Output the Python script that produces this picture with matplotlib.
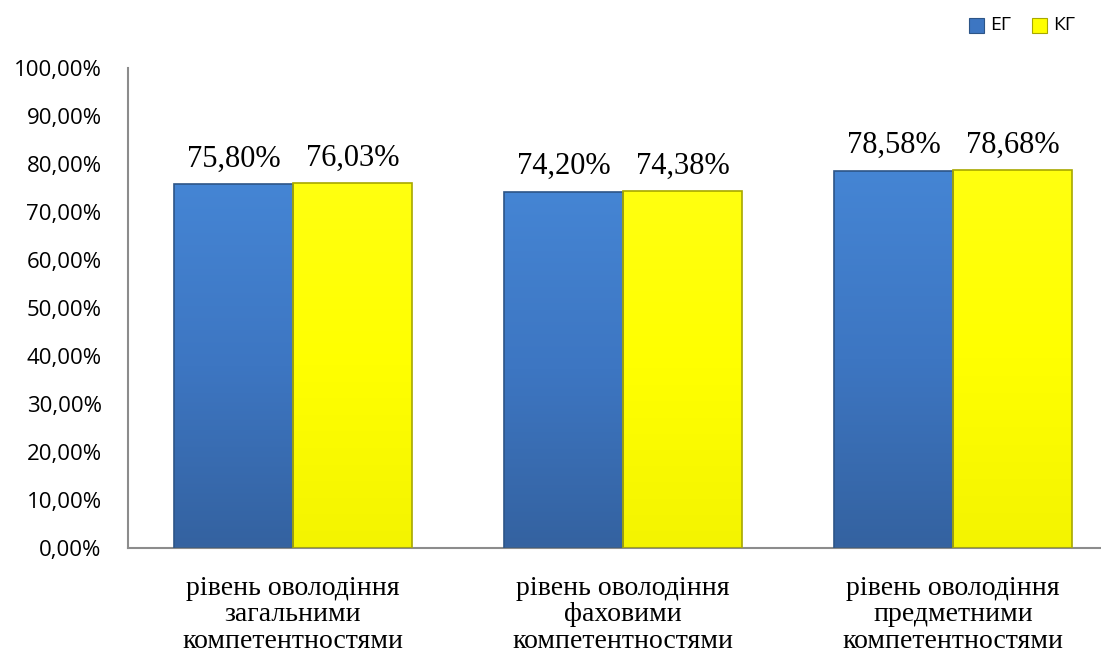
import matplotlib
matplotlib.use("Agg")
import matplotlib.pyplot as plt
import numpy as np
from matplotlib.colors import LinearSegmentedColormap
from matplotlib.patches import Rectangle

categories = ["рівень оволодіння\nзагальними\nкомпетентностями",
              "рівень оволодіння\nфаховими\nкомпетентностями",
              "рівень оволодіння\nпредметними\nкомпетентностями"]
series_names = ["ЕГ", "КГ"]
eg_values = [75.80, 74.20, 78.58]
kg_values = [76.03, 74.38, 78.68]
yticks = [0, 10, 20, 30, 40, 50, 60, 70, 80, 90, 100]

W, H = 1101, 656
fig = plt.figure(figsize=(W / 100, H / 100), dpi=100)
ax = fig.add_axes([128 / W, (H - 548) / H, (W - 128) / W, (548 - 68) / H])

x = np.arange(len(categories))
bw = 0.36
blue_cmap = LinearSegmentedColormap.from_list("b", ["#3462A0", "#3D76C2", "#4585D4"])
yel_cmap = LinearSegmentedColormap.from_list("y", ["#F4F400", "#FFFF00", "#FFFF10"])

def draw(vals, offset, cmap, edge):
    bars = ax.bar(x + offset, vals, bw, color="none", edgecolor=edge, linewidth=1.2, zorder=3)
    grad = np.linspace(0, 1, 256).reshape(-1, 1)
    for b in bars:
        x0, y0 = b.get_x(), b.get_y()
        w, h = b.get_width(), b.get_height()
        im = ax.imshow(grad, cmap=cmap, aspect="auto", origin="lower",
                       extent=[x0, x0 + w, y0, y0 + h], zorder=2)
        im.set_clip_path(b)
    return bars

b1 = draw(eg_values, -bw / 2, blue_cmap, "#2D5587")
b2 = draw(kg_values, bw / 2, yel_cmap, "#A8A800")

for bars, vals in ((b1, eg_values), (b2, kg_values)):
    for b, v in zip(bars, vals):
        ax.text(b.get_x() + b.get_width() / 2, v + 2.2, f"{v:.2f}%".replace(".", ","),
                ha="center", va="bottom", fontsize=22, family="Liberation Serif", color="black")

ax.set_xlim(-0.5, -0.5 + (W - 128) / 330)
ax.set_ylim(0, 100)
ax.set_yticks(yticks)
ax.set_yticklabels([f"{t:.2f}%".replace(".", ",") for t in yticks], fontsize=16, family="Open Sans")
ax.set_xticks(x)
ax.set_xticklabels(categories, fontsize=20, family="Liberation Serif", linespacing=1.08)
ax.tick_params(axis="both", length=0)
ax.tick_params(axis="y", pad=19)
ax.tick_params(axis="x", pad=20)
for s in ["top", "right"]:
    ax.spines[s].set_visible(False)
for s in ["left", "bottom"]:
    ax.spines[s].set_color("#8C8C8C")
    ax.spines[s].set_linewidth(1.5)

# legend
lx = [969, 1032]
for i, (name, col, ec) in enumerate(zip(series_names, ["#3D76C2", "#FFFF00"], ["#2D5587", "#A8A800"])):
    fig.patches.append(Rectangle((lx[i] / W, (H - 33) / H), 15 / W, 15 / H, transform=fig.transFigure,
                                 facecolor=col, edgecolor=ec, linewidth=0.8))
    fig.text((lx[i] + 21) / W, (H - 25.5) / H, name, fontsize=14, family="Open Sans",
             va="center", ha="left")

fig.savefig("out.png", dpi=100)
